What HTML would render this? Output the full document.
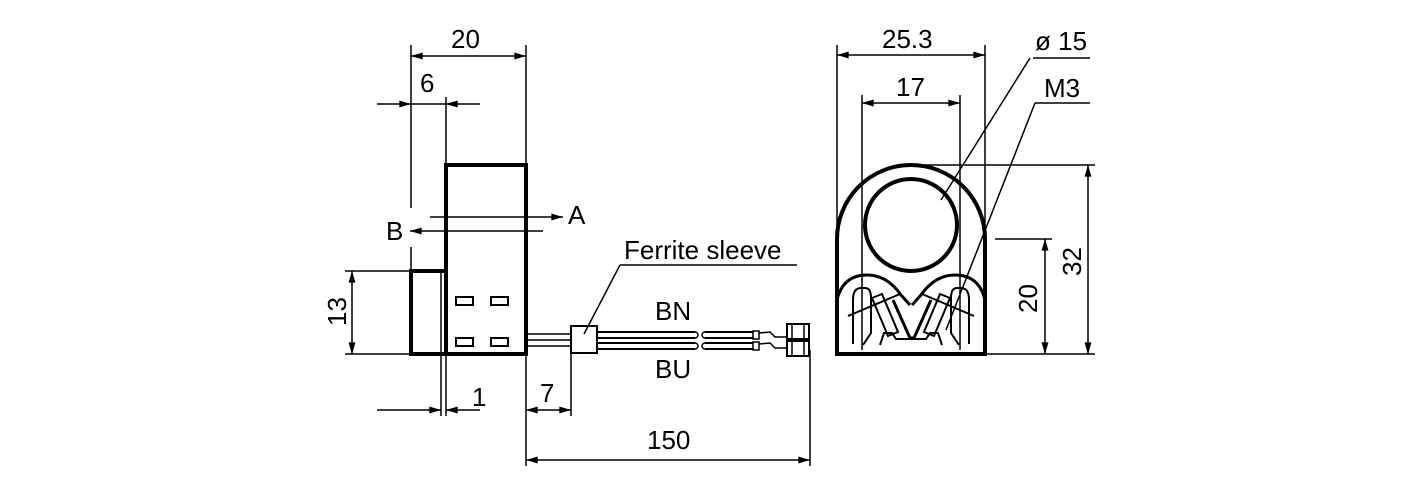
<!DOCTYPE html>
<html><head><style>body{margin:0;background:#fff}svg{display:block}text{font-family:"Liberation Sans",sans-serif;font-size:26px;fill:#000}</style></head><body>
<svg width="1417" height="496" viewBox="0 0 1417 496" xmlns="http://www.w3.org/2000/svg">
<defs><marker id="a" viewBox="0 0 10 6" refX="10" refY="3" markerWidth="20" markerHeight="7" markerUnits="userSpaceOnUse" orient="auto-start-reverse"><path d="M0,0L10,3L0,6z"/></marker></defs>
<g stroke="#000" stroke-width="1.5" fill="none">
<line x1="411" y1="45" x2="411" y2="208"/><line x1="411" y1="247" x2="411" y2="271"/>
<line x1="526" y1="45" x2="526" y2="165"/>
<line x1="446" y1="97" x2="446" y2="165"/>
<line x1="411" y1="56" x2="526" y2="56" marker-start="url(#a)" marker-end="url(#a)"/>
<line x1="377" y1="104" x2="411" y2="104" marker-end="url(#a)"/><line x1="480" y1="104" x2="446" y2="104" marker-end="url(#a)"/><line x1="411" y1="104" x2="446" y2="104"/>
<line x1="430" y1="217" x2="563" y2="217" marker-end="url(#a)"/>
<line x1="543" y1="231" x2="410" y2="231" marker-end="url(#a)"/>
<line x1="345" y1="271" x2="411" y2="271"/><line x1="345" y1="354" x2="411" y2="354"/>
<line x1="352" y1="271" x2="352" y2="354" marker-start="url(#a)" marker-end="url(#a)"/>
<line x1="441" y1="354" x2="441" y2="416"/><line x1="446" y1="354" x2="446" y2="416"/>
<line x1="377" y1="410" x2="441" y2="410" marker-end="url(#a)"/><line x1="480" y1="410" x2="446" y2="410" marker-end="url(#a)"/>
<line x1="526" y1="354" x2="526" y2="466"/><line x1="571" y1="354" x2="571" y2="416"/><line x1="810" y1="350" x2="810" y2="466"/>
<line x1="526" y1="410" x2="571" y2="410" marker-start="url(#a)" marker-end="url(#a)"/>
<line x1="526" y1="460" x2="810" y2="460" marker-start="url(#a)" marker-end="url(#a)"/>
<line x1="441" y1="271" x2="441" y2="354"/>
<line x1="526" y1="334" x2="571" y2="334"/><line x1="526" y1="340" x2="571" y2="340"/><line x1="526" y1="346" x2="571" y2="346"/>
<path d="M597,332H695M597,338H695M597,343H695M597,349H695M705,332H753M705,338H753M705,343H753M705,349H753" stroke-width="2"/>
<path d="M695,332a3,3 0 0 1 0,6M705,332a3,3 0 0 0 0,6M695,343a3,3 0 0 1 0,6M705,343a3,3 0 0 0 0,6"/>
<rect x="753" y="331" width="6" height="8"/><rect x="753" y="342" width="6" height="8"/>
<path d="M759,333L770,332L775,337L787,337M759,344L770,343L775,348L787,348"/>
<rect x="787" y="324" width="22" height="15" stroke-width="2"/><rect x="787" y="341" width="22" height="15" stroke-width="2"/>
<line x1="792" y1="324" x2="792" y2="356"/><line x1="804" y1="324" x2="804" y2="356"/>
<line x1="620" y1="265" x2="797" y2="265"/><line x1="620" y1="265" x2="584" y2="334"/>
<line x1="837" y1="45" x2="837" y2="290"/><line x1="985" y1="45" x2="985" y2="230"/>
<line x1="837" y1="55" x2="985" y2="55" marker-start="url(#a)" marker-end="url(#a)"/>
<line x1="862" y1="95" x2="862" y2="350"/><line x1="960" y1="95" x2="960" y2="350"/>
<line x1="862" y1="103" x2="960" y2="103" marker-start="url(#a)" marker-end="url(#a)"/>
<line x1="1030" y1="58" x2="941" y2="200"/><line x1="1033" y1="58" x2="1090" y2="58"/>
<line x1="1035" y1="103" x2="946" y2="330"/><line x1="1035" y1="103" x2="1090" y2="103"/>
<line x1="911" y1="165" x2="1095" y2="165"/><line x1="985" y1="354" x2="1095" y2="354"/>
<line x1="995" y1="239" x2="1052" y2="239"/>
<line x1="1088" y1="165" x2="1088" y2="354" marker-start="url(#a)" marker-end="url(#a)"/>
<line x1="1045" y1="239" x2="1045" y2="354" marker-start="url(#a)" marker-end="url(#a)"/>
<path d="M853,344V300q0,-12 8,-12h4q6,0 6,10v35l-8,12M969,344V300q0,-12 -8,-12h-4q-6,0 -6,10v35l8,12" stroke-width="2"/>
<path d="M880,345l4,-12h8l4,6h30l4,-6h8l4,12" stroke-width="2"/>
<path d="M872,298l16,38l10,-4l-16,-38zM950,298l-16,38l-10,-4l16,-38z" stroke-width="2"/>
<path d="M848,316l52,-22M974,316l-52,-22" stroke-width="2"/>
</g>
<g stroke="#000" stroke-width="4" fill="none">
<rect x="446" y="165" width="80" height="189"/>
<rect x="411" y="271" width="35" height="83"/>
<rect x="571" y="326" width="26" height="27" stroke-width="2"/>
<path d="M837,354V239a74,74 0 0 1 148,0V354Z"/>
<circle cx="911" cy="225" r="46"/>
<path d="M837,300q6,-25 30,-25q20,0 34,20l9,10M985,300q-6,-25 -30,-25q-20,0 -34,20l-9,10" stroke-width="3"/>
<path d="M893,300l17,38h4l17,-38" stroke-width="3"/>
</g>
<g fill="none" stroke="#000" stroke-width="2">
<rect x="456" y="297" width="17" height="8"/><rect x="491" y="297" width="17" height="8"/>
<rect x="456" y="338" width="17" height="8"/><rect x="491" y="338" width="17" height="8"/>
</g>
<text x="451" y="48">20</text><text x="420" y="92">6</text>
<text x="568" y="224">A</text><text x="386" y="240">B</text>
<text x="472" y="406">1</text><text x="540" y="402">7</text><text x="647" y="449">150</text>
<text x="624" y="259">Ferrite sleeve</text>
<text x="655" y="320">BN</text><text x="655" y="378">BU</text>
<text x="882" y="48">25.3</text><text x="896" y="96">17</text>
<text x="1035" y="50">ø 15</text><text x="1044" y="97">M3</text>
<text transform="translate(346,326) rotate(-90)">13</text>
<text transform="translate(1037,313) rotate(-90)">20</text>
<text transform="translate(1081,276) rotate(-90)">32</text>
</svg>
</body></html>
